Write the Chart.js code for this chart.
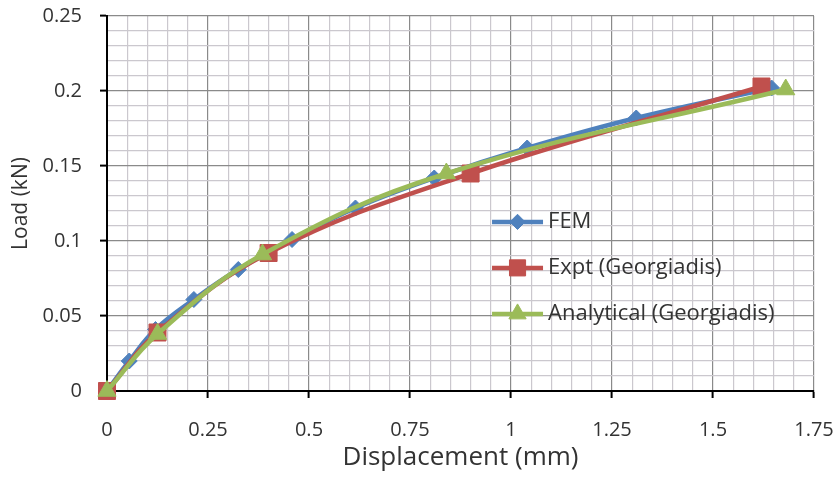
<!DOCTYPE html>
<html>
<head>
<meta charset="utf-8">
<script src="https://cdn.jsdelivr.net/npm/chart.js@4.4.1/dist/chart.umd.min.js"></script>
<style>
  body { margin: 0; background: #fff; }
  canvas { display: block; }
</style>
</head>
<body>
<canvas id="chart" width="839" height="479"></canvas>
<script>
// values
const femX = [0, 0.055, 0.12, 0.215, 0.325, 0.458, 0.615, 0.81, 1.04, 1.31, 1.645];
const femY = [0, 0.02, 0.041, 0.061, 0.081, 0.101, 0.122, 0.142, 0.162, 0.182, 0.202];

const exptX = [0, 0.125, 0.4, 0.9, 1.62];
const exptY = [0, 0.039, 0.092, 0.145, 0.203];

const anaX = [0, 0.125, 0.385, 0.84, 1.68];
const anaY = [0, 0.038, 0.091, 0.145, 0.201];

const xTicks = [0, 0.25, 0.5, 0.75, 1, 1.25, 1.5, 1.75];
const yTicks = [0, 0.05, 0.1, 0.15, 0.2, 0.25];

const FONT = "'Open Sans', sans-serif";
const TEXT = '#333333';

const toPoints = (xs, ys) => xs.map((x, i) => ({ x: x, y: ys[i] }));
const isMajor = (v, list) => list.some(t => Math.abs(t - v) < 1e-6);

// legend drawn inside the plot, the way the spreadsheet had it
const insideLegend = {
    id: 'insideLegend',
    afterDatasetsDraw(chart, args, opts) {
        const ctx = chart.ctx;
        const area = chart.chartArea;
        const x0 = area.left + opts.x * area.width;
        let y = area.top + opts.y * area.height;
        ctx.save();
        chart.data.datasets.forEach(ds => {
            ctx.strokeStyle = ds.borderColor;
            ctx.lineWidth = ds.borderWidth;
            ctx.beginPath();
            ctx.moveTo(x0, y);
            ctx.lineTo(x0 + 51, y);
            ctx.stroke();
            ctx.fillStyle = ds.pointBackgroundColor;
            ctx.strokeStyle = ds.pointBorderColor;
            ctx.lineWidth = 1;
            Chart.helpers.drawPoint(ctx, {
                pointStyle: ds.pointStyle,
                radius: ds.pointRadius * 0.95,
                rotation: 0,
                borderWidth: 1
            }, x0 + 25.5, y);
            ctx.fillStyle = TEXT;
            ctx.font = '22px ' + FONT;
            ctx.textBaseline = 'middle';
            ctx.textAlign = 'left';
            ctx.fillText(ds.label, x0 + 56, y);
            y += opts.gap;
        });
        ctx.restore();
    }
};

const series = (label, pts, color, style, r, order) => ({
    label: label,
    data: pts,
    borderColor: color,
    backgroundColor: color,
    pointBackgroundColor: color,
    pointBorderColor: color,
    pointBorderWidth: 1,
    borderWidth: 4.5,
    pointStyle: style,
    pointRadius: r,
    pointHoverRadius: r,
    tension: 0.4,
    clip: false,
    order: order
});

const ctx = document.getElementById('chart').getContext('2d');
const chart = new Chart(ctx, {
    type: 'line',
    data: {
        datasets: [
            series('FEM', toPoints(femX, femY), '#4f81bd', 'rectRot', 8, 3),
            series('Expt (Georgiadis)', toPoints(exptX, exptY), '#c0504d', 'rect', 12, 2),
            series('Analytical (Georgiadis)', toPoints(anaX, anaY), '#9bbb59', 'triangle', 10.5, 1)
        ]
    },
    plugins: [insideLegend],
    options: {
        responsive: false,
        animation: false,
        layout: { padding: { left: 0, top: 16, right: 25, bottom: 0 } },
        plugins: {
            legend: { display: false },
            tooltip: { enabled: false },
            insideLegend: { x: 0.5446, y: 0.549, gap: 46 }
        },
        scales: {
            x: {
                type: 'linear',
                min: 0,
                max: 1.75,
                border: { display: true, color: '#000', width: 2 },
                grid: {
                    color: c => isMajor(c.tick.value, xTicks) ? '#8a8a8a' : '#cbc8ce',
                    lineWidth: 1.2,
                    tickLength: 7,
                    tickColor: c => isMajor(c.tick.value, xTicks) ? '#000' : 'rgba(0,0,0,0)',
                    tickWidth: 2
                },
                ticks: {
                    stepSize: 0.05,
                    autoSkip: false,
                    maxTicksLimit: 100,
                    maxRotation: 0,
                    padding: 20,
                    color: TEXT,
                    font: { family: FONT, size: 20 },
                    callback: v => isMajor(v, xTicks) ? String(+v.toFixed(2)) : ''
                },
                title: {
                    display: true,
                    text: 'Displacement (mm)',
                    color: TEXT,
                    font: { family: FONT, size: 26 },
                    padding: { top: 0, bottom: 6 }
                },
                afterFit: s => {
                    s.height = 88;
                    s.paddingLeft = 0;
                    s.paddingRight = 0;
                }
            },
            y: {
                type: 'linear',
                min: 0,
                max: 0.25,
                border: { display: true, color: '#000', width: 2 },
                grid: {
                    color: c => isMajor(c.tick.value, yTicks) ? '#8a8a8a' : '#cbc8ce',
                    lineWidth: 1.2,
                    tickLength: 7,
                    tickColor: c => isMajor(c.tick.value, yTicks) ? '#000' : 'rgba(0,0,0,0)',
                    tickWidth: 2
                },
                ticks: {
                    stepSize: 0.01,
                    autoSkip: false,
                    maxTicksLimit: 100,
                    padding: 18,
                    color: TEXT,
                    font: { family: FONT, size: 20 },
                    callback: v => isMajor(v, yTicks) ? String(+v.toFixed(2)) : ''
                },
                title: {
                    display: true,
                    text: 'Load (kN)',
                    color: TEXT,
                    font: { family: FONT, size: 21 },
                    padding: { top: 8, bottom: 0 }
                },
                afterFit: s => {
                    s.width = 107;
                    s.paddingTop = 0;
                    s.paddingBottom = 0;
                }
            }
        }
    }
});
</script>
</body>
</html>
